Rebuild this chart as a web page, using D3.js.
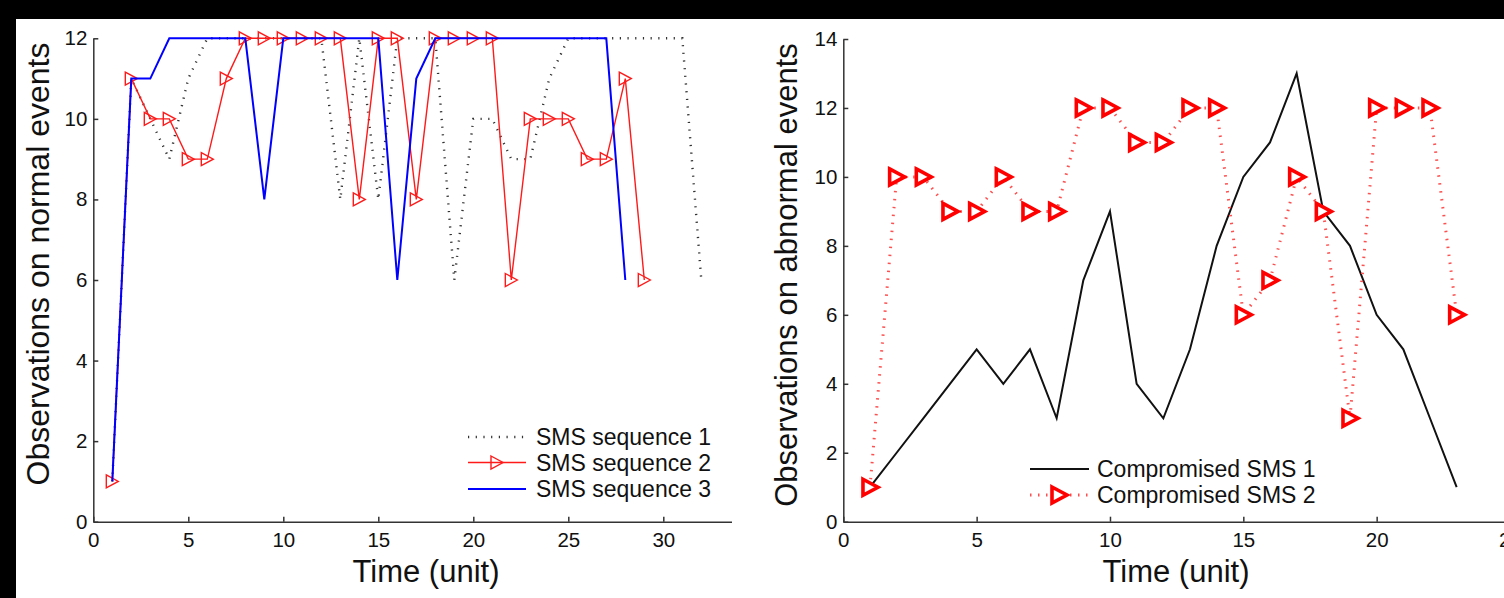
<!DOCTYPE html>
<html>
<head>
<meta charset="utf-8">
<script src="https://cdn.jsdelivr.net/npm/d3@7"></script>
<style>
body { margin: 0; background: #fff; }
svg { display: block; font-family: "Liberation Sans", Arial, sans-serif; }
</style>
</head>
<body>
<svg id="chart" width="1504" height="598"></svg>
<script>
// left panel - observations on normal events, one value per time unit (t = 1, 2, ...)
const seq1 = [1,11,10,9,11,12,12,12,12,12,12,12,8,12,8,12,12,12,6,10,10,9,9,11,12,12,12,12,12,12,12,6];
const seq2 = [1,11,10,10,9,9,11,12,12,12,12,12,12,8,12,12,8,12,12,12,12,6,10,10,10,9,9,11,6];
const seq3 = [1,11,11,12,12,12,12,12,8,12,12,12,12,12,12,6,11,12,12,12,12,12,12,12,12,12,12,6];

// right panel - observations on abnormal events
const compromised1 = [1,2,3,4,5,4,5,3,7,9,4,3,5,8,10,11,13,9,8,6,5,3,1];
const compromised2 = [1,10,10,9,9,10,9,9,12,12,11,11,12,12,6,7,10,9,3,12,12,12,6];

const leftXTicks = [0,5,10,15,20,25,30];
const leftYTicks = [0,2,4,6,8,10,12];
const rightXTicks = [0,5,10,15,20,25];
const rightYTicks = [0,2,4,6,8,10,12,14];

const leftLegend = ["SMS sequence 1", "SMS sequence 2", "SMS sequence 3"];
const rightLegend = ["Compromised SMS 1", "Compromised SMS 2"];

const svg = d3.select("#chart");
svg.append("rect").attr("width", 1504).attr("height", 598).attr("fill", "#fff");

// black edges of the scanned figure
svg.append("rect").attr("x", 0).attr("y", 0).attr("width", 1504).attr("height", 19).attr("fill", "#000");
svg.append("rect").attr("x", 0).attr("y", 0).attr("width", 16).attr("height", 598).attr("fill", "#000");

function toPoints(values) {
    return values.map((v, i) => ({ t: i + 1, v: v }));
}

const triSmall = "M-6,-6.5L6,0L-6,6.5Z";
const triBig = "M-7,-8L8,0L-7,8Z";

function drawAxes(g, x, y, xTicks, yTicks) {
    let xAxis = d3.axisBottom(x).tickValues(xTicks).tickSizeInner(-5).tickSizeOuter(0).tickPadding(11);
    let yAxis = d3.axisLeft(y).tickValues(yTicks).tickSizeInner(-5).tickSizeOuter(0).tickPadding(6);

    let gx = g.append("g").attr("transform", "translate(0," + y(0) + ")").call(xAxis);
    let gy = g.append("g").attr("transform", "translate(" + x(0) + ",0)").call(yAxis);

    [gx, gy].forEach(a => {
        a.select(".domain").attr("stroke", "#333").attr("stroke-width", 1.5);
        a.selectAll(".tick line").attr("stroke", "#333").attr("stroke-width", 1.5);
        a.selectAll(".tick text").attr("font-size", 20.5).attr("fill", "#111")
            .attr("font-family", "Liberation Sans, Arial, sans-serif");
    });
}

// ---------------- left panel ----------------
svg.append("clipPath").attr("id", "leftClip")
    .append("rect").attr("x", 0).attr("y", 0).attr("width", 732).attr("height", 598);

const left = svg.append("g").attr("clip-path", "url(#leftClip)");

const xL = d3.scaleLinear().domain([0, 35]).range([93.3, 758.3]);
const yL = d3.scaleLinear().domain([0, 12]).range([521.7, 38.3]);

drawAxes(left, xL, yL, leftXTicks, leftYTicks);

const lineL = d3.line().x(d => xL(d.t)).y(d => yL(d.v));

left.append("path").datum(toPoints(seq1)).attr("d", lineL)
    .attr("fill", "none").attr("stroke", "#333").attr("stroke-width", 2.4)
    .attr("stroke-dasharray", "1.2,6.5");

left.append("path").datum(toPoints(seq2)).attr("d", lineL)
    .attr("fill", "none").attr("stroke", "#ff1a1a").attr("stroke-width", 1.4);

left.selectAll(".m2").data(toPoints(seq2)).enter().append("path")
    .attr("class", "m2")
    .attr("d", triSmall)
    .attr("transform", d => "translate(" + xL(d.t) + "," + yL(d.v) + ")")
    .attr("fill", "none").attr("stroke", "#ff1a1a").attr("stroke-width", 1.4);

left.append("path").datum(toPoints(seq3)).attr("d", lineL)
    .attr("fill", "none").attr("stroke", "#0000ff").attr("stroke-width", 2);

// left legend
const legL = left.append("g");
const legLY = [437, 462.5, 489];
legL.append("line").attr("x1", 468).attr("x2", 526).attr("y1", legLY[0]).attr("y2", legLY[0])
    .attr("stroke", "#333").attr("stroke-width", 2.4).attr("stroke-dasharray", "1.2,6.5");
legL.append("line").attr("x1", 468).attr("x2", 526).attr("y1", legLY[1]).attr("y2", legLY[1])
    .attr("stroke", "#ff1a1a").attr("stroke-width", 1.4);
legL.append("path").attr("d", triSmall).attr("transform", "translate(497," + legLY[1] + ")")
    .attr("fill", "none").attr("stroke", "#ff1a1a").attr("stroke-width", 1.4);
legL.append("line").attr("x1", 468).attr("x2", 526).attr("y1", legLY[2]).attr("y2", legLY[2])
    .attr("stroke", "#0000ff").attr("stroke-width", 2);
legL.selectAll("text").data(leftLegend).enter().append("text")
    .attr("x", 536).attr("y", (d, i) => legLY[i]).attr("dy", "0.36em")
    .attr("font-size", 23).attr("fill", "#111").text(d => d);

// axis titles
left.append("text").attr("x", 426).attr("y", 582).attr("text-anchor", "middle")
    .attr("font-size", 31).attr("fill", "#111").text("Time (unit)");
left.append("text").attr("transform", "translate(49,264) rotate(-90)").attr("text-anchor", "middle")
    .attr("font-size", 32).attr("fill", "#111").text("Observations on normal events");

// ---------------- right panel ----------------
const right = svg.append("g");

const xR = d3.scaleLinear().domain([0, 25]).range([843.3, 1510]);
const yR = d3.scaleLinear().domain([0, 14]).range([521.7, 39]);

drawAxes(right, xR, yR, rightXTicks, rightYTicks);

const lineR = d3.line().x(d => xR(d.t)).y(d => yR(d.v));

right.append("path").datum(toPoints(compromised1)).attr("d", lineR)
    .attr("fill", "none").attr("stroke", "#111").attr("stroke-width", 2);

right.append("path").datum(toPoints(compromised2)).attr("d", lineR)
    .attr("fill", "none").attr("stroke", "#ff5050").attr("stroke-width", 3)
    .attr("stroke-dasharray", "1.5,6.5");

right.selectAll(".m4").data(toPoints(compromised2)).enter().append("path")
    .attr("class", "m4")
    .attr("d", triBig)
    .attr("transform", d => "translate(" + xR(d.t) + "," + yR(d.v) + ")")
    .attr("fill", "#fff").attr("stroke", "#ff0000").attr("stroke-width", 3.6)
    .attr("stroke-linejoin", "miter");

// right legend
const legR = right.append("g");
const legRY = [469, 495];
legR.append("line").attr("x1", 1030).attr("x2", 1089).attr("y1", legRY[0]).attr("y2", legRY[0])
    .attr("stroke", "#111").attr("stroke-width", 2);
legR.append("line").attr("x1", 1030).attr("x2", 1089).attr("y1", legRY[1]).attr("y2", legRY[1])
    .attr("stroke", "#ff5050").attr("stroke-width", 3).attr("stroke-dasharray", "1.5,6.5");
legR.append("path").attr("d", triBig).attr("transform", "translate(1059," + legRY[1] + ")")
    .attr("fill", "#fff").attr("stroke", "#ff0000").attr("stroke-width", 3.6);
legR.selectAll("text").data(rightLegend).enter().append("text")
    .attr("x", 1097).attr("y", (d, i) => legRY[i]).attr("dy", "0.36em")
    .attr("font-size", 23).attr("fill", "#111").text(d => d);

right.append("text").attr("x", 1176).attr("y", 582).attr("text-anchor", "middle")
    .attr("font-size", 31).attr("fill", "#111").text("Time (unit)");
right.append("text").attr("transform", "translate(797,275) rotate(-90)").attr("text-anchor", "middle")
    .attr("font-size", 31).attr("fill", "#111").text("Observations on abnormal events");
</script>
</body>
</html>
